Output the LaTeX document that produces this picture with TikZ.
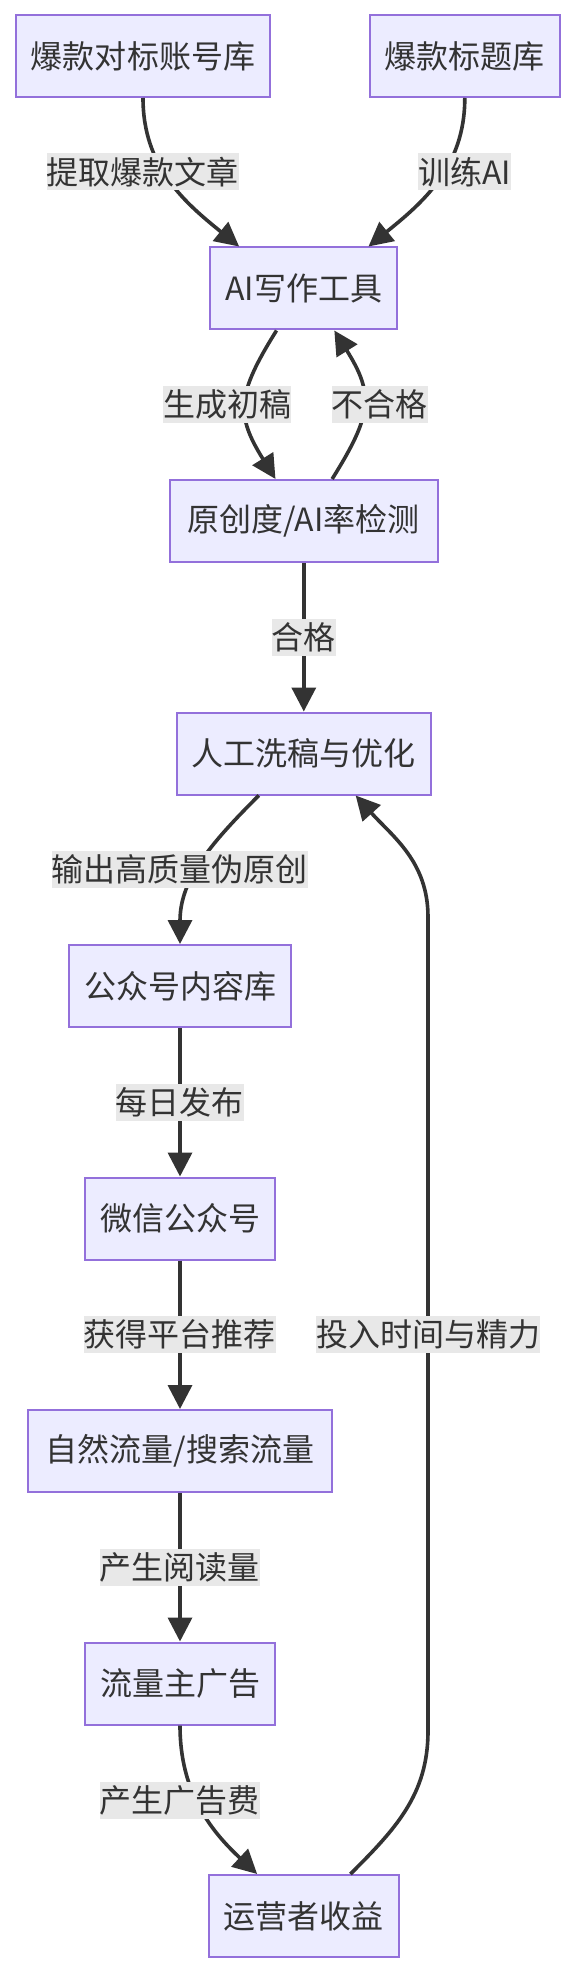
\documentclass[tikz,border=0pt]{standalone}
\usepackage{fontspec}
\setmainfont{Noto Sans CJK SC}
\usetikzlibrary{arrows.meta,positioning}
\definecolor{boxfill}{HTML}{ECECFF}
\definecolor{boxline}{HTML}{9370DB}
\definecolor{inkgray}{HTML}{333333}
\definecolor{lblgray}{HTML}{E8E8E8}
\tikzset{
  box/.style={draw=boxline, fill=boxfill, line width=1pt, minimum height=41pt,
    inner xsep=7.6pt, text=inkgray},
  lbl/.style={fill=lblgray, inner sep=0pt, minimum height=18.5pt, text=inkgray},
  flow/.style={color=inkgray, line width=1.8pt, -{Triangle[length=12pt,width=12pt]}}
}
\begin{document}
\begin{tikzpicture}[x=0.5pt, y=-0.5pt, node distance=116.25pt,
    font=\fontsize{16pt}{19pt}\selectfont]
  \fill[white] (0,0) rectangle (576,1974);

  \node[box] (ai) at (303.8,288.5) {AI写作工具};
  \node[box] (acc) [above of=ai, xshift=-80.4pt] {爆款对标账号库};
  \node[box] (tit) [above of=ai, xshift=80.5pt] {爆款标题库};
  \node[box, minimum width=133.7pt] (chk) [below of=ai] {原创度/AI率检测};
  \node[box] (opt) [below of=chk] {人工洗稿与优化};
  \node[box] (lib) [below of=opt, xshift=-61.9pt] {公众号内容库};
  \node[box] (wx) [below of=lib] {微信公众号};
  \node[box, minimum width=152pt] (traf) [below of=wx] {自然流量/搜索流量};
  \node[box] (ads) [below of=traf] {流量主广告};
  \node[box] (rev) [below of=ads, xshift=61.9pt] {运营者收益};

  \coordinate (up1) at (428,1731);
  \coordinate (up2) at (428,917);

  \path[flow] (acc.south) edge[out=-90, in=141] (ai.147)
              (tit.south) edge[out=-90, in=39] (ai.33)
              (ai.237.6) edge[out=-122, in=122, looseness=1.3] (chk.124.3)
              (chk.56.6) edge[out=58, in=-58, looseness=1.3] (ai.-54.7)
              (chk) edge (opt)
              (opt.223.3) edge[out=-135, in=90] (lib.north)
              (lib) edge (wx)
              (wx) edge (traf)
              (traf) edge (ads)
              (ads.south) edge[out=-90, in=137] (rev.138);
  \draw[flow] (rev.42.8) to[out=45, in=-90] (up1) -- (up2)
              to[out=90, in=-48] (opt.-39.9);

  \node[lbl] (t1) at (142.8,172) {提取爆款文章};
  \node[lbl] (t2) at (464.9,172) {训练AI};
  \node[lbl] (t3) at (227.2,404.5) {生成初稿};
  \node[lbl] (t4) at (379.9,404.5) {不合格};
  \node[lbl] (t5) at (303.8,637) {合格};
  \node[lbl] (t6) at (179.6,869) {输出高质量伪原创};
  \node[lbl] (t7) at (179.9,1102) {每日发布};
  \node[lbl] (t8) at (179.9,1334.5) {获得平台推荐};
  \node[lbl] (t9) at (428,1334.5) {投入时间与精力};
  \node[lbl] (t10) at (179.9,1567) {产生阅读量};
  \node[lbl] (t11) at (179.9,1800) {产生广告费};
\end{tikzpicture}
\end{document}
